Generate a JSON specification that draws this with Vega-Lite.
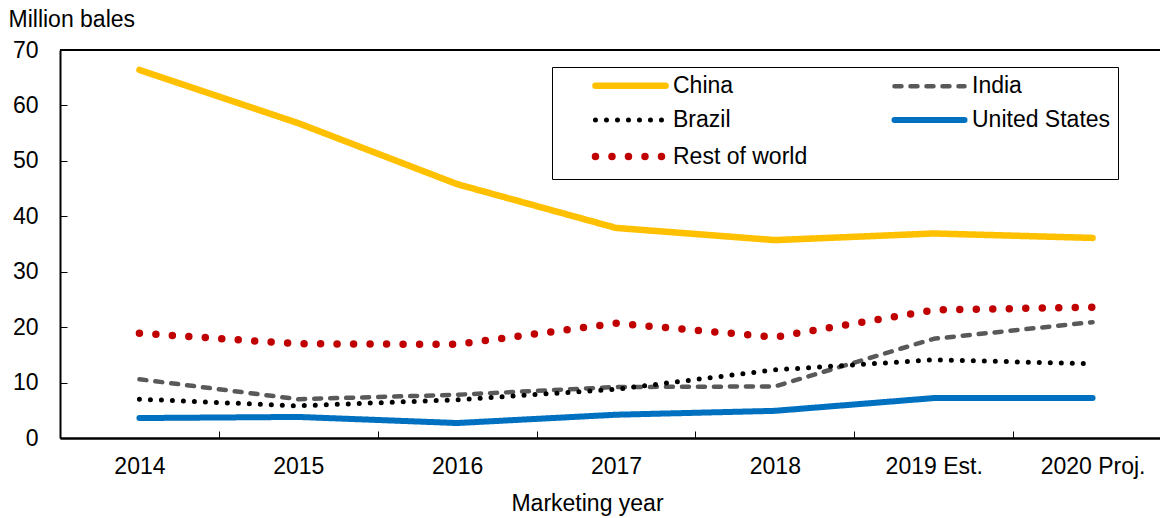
{
  "$schema": "https://vega.github.io/schema/vega-lite/v6.json",
  "width": 1100,
  "height": 388,
  "autosize": "none",
  "padding": {"left": 60, "top": 50, "right": 0, "bottom": 80},
  "background": "white",
  "config": {
    "view": {"stroke": null},
    "font": "Liberation Sans",
    "text": {"font": "Liberation Sans"}
  },
  "data": {
    "values": [
      {"year": "2014", "series": "China", "value": 66.4},
      {"year": "2015", "series": "China", "value": 56.8},
      {"year": "2016", "series": "China", "value": 45.8},
      {"year": "2017", "series": "China", "value": 37.9},
      {"year": "2018", "series": "China", "value": 35.7},
      {"year": "2019 Est.", "series": "China", "value": 36.9},
      {"year": "2020 Proj.", "series": "China", "value": 36.1},
      {"year": "2014", "series": "India", "value": 10.6},
      {"year": "2015", "series": "India", "value": 7.0},
      {"year": "2016", "series": "India", "value": 7.8},
      {"year": "2017", "series": "India", "value": 9.2},
      {"year": "2018", "series": "India", "value": 9.3},
      {"year": "2019 Est.", "series": "India", "value": 17.9},
      {"year": "2020 Proj.", "series": "India", "value": 20.9},
      {"year": "2014", "series": "Brazil", "value": 7.0},
      {"year": "2015", "series": "Brazil", "value": 5.8},
      {"year": "2016", "series": "Brazil", "value": 6.9},
      {"year": "2017", "series": "Brazil", "value": 8.8},
      {"year": "2018", "series": "Brazil", "value": 12.3},
      {"year": "2019 Est.", "series": "Brazil", "value": 14.1},
      {"year": "2020 Proj.", "series": "Brazil", "value": 13.4},
      {"year": "2014", "series": "United States", "value": 3.6},
      {"year": "2015", "series": "United States", "value": 3.8},
      {"year": "2016", "series": "United States", "value": 2.7},
      {"year": "2017", "series": "United States", "value": 4.2},
      {"year": "2018", "series": "United States", "value": 4.9},
      {"year": "2019 Est.", "series": "United States", "value": 7.2},
      {"year": "2020 Proj.", "series": "United States", "value": 7.2},
      {"year": "2014", "series": "Rest of world", "value": 18.9},
      {"year": "2015", "series": "Rest of world", "value": 17.0},
      {"year": "2016", "series": "Rest of world", "value": 16.9},
      {"year": "2017", "series": "Rest of world", "value": 20.7},
      {"year": "2018", "series": "Rest of world", "value": 18.2},
      {"year": "2019 Est.", "series": "Rest of world", "value": 23.1},
      {"year": "2020 Proj.", "series": "Rest of world", "value": 23.6}
    ]
  },
  "layer": [
    {
      "mark": {"type": "line", "strokeCap": "round", "strokeJoin": "round", "clip": false},
      "encoding": {
        "x": {
          "field": "year",
          "type": "nominal",
          "sort": ["2014", "2015", "2016", "2017", "2018", "2019 Est.", "2020 Proj."],
          "scale": {"range": [0, 1112], "paddingInner": 0, "paddingOuter": 0},
          "axis": {
            "title": "Marketing year",
            "titleFont": "Liberation Sans",
            "titleFontSize": 23,
            "titleFontWeight": "normal",
            "titleColor": "black",
            "titleX": 527,
            "titleY": 54,
            "titleBaseline": "top",
            "labelFont": "Liberation Sans",
            "labelFontSize": 23,
            "labelColor": "black",
            "labelAngle": 0,
            "labelPadding": 24,
            "domainColor": "black",
            "domainWidth": 2.5,
            "tickBand": "extent",
            "tickColor": "black",
            "tickSize": -7,
            "tickWidth": 1
          }
        },
        "y": {
          "field": "value",
          "type": "quantitative",
          "scale": {"domain": [0, 70], "nice": false},
          "axis": {
            "values": [0, 10, 20, 30, 40, 50, 60, 70],
            "title": "Million bales",
            "titleAngle": 0,
            "titleAlign": "left",
            "titleBaseline": "top",
            "titleX": -52,
            "titleY": -42,
            "titleFont": "Liberation Sans",
            "titleFontSize": 23,
            "titleFontWeight": "normal",
            "titleColor": "black",
            "labelFont": "Liberation Sans",
            "labelFontSize": 23,
            "labelColor": "black",
            "labelPadding": 29,
            "grid": false,
            "domainColor": "black",
            "domainWidth": 2,
            "tickColor": "black",
            "tickSize": -7,
            "tickWidth": 1
          }
        },
        "color": {
          "field": "series",
          "type": "nominal",
          "scale": {
            "domain": ["China", "India", "Brazil", "United States", "Rest of world"],
            "range": ["#FFC000", "#595959", "#000000", "#0070C0", "#C00000"]
          },
          "legend": {
            "title": null,
            "orient": "none",
            "legendX": 492,
            "legendY": 17,
            "columns": 2,
            "direction": "horizontal",
            "strokeColor": "black",
            "fillColor": "white",
            "padding": 7,
            "symbolType": "M-4.67,0H4.67",
            "symbolSize": 225,
            "symbolOffset": 60,
            "labelOffset": 31,
            "columnPadding": 50,
            "rowPadding": 8.5,
            "labelFont": "Liberation Sans",
            "labelFontSize": 23,
            "labelColor": "black",
            "labelLimit": 400,
            "labelExpr": "datum.label + '    '",
            "encode": {
              "symbols": {
                "update": {
                  "strokeCap": {"value": "round"}
                }
              }
            }
          }
        },
        "strokeDash": {
          "field": "series",
          "type": "nominal",
          "scale": {
            "domain": ["China", "India", "Brazil", "United States", "Rest of world"],
            "range": [[1, 0], [7, 9], [0, 11], [1, 0], [0, 16.5]]
          }
        },
        "strokeWidth": {
          "field": "series",
          "type": "nominal",
          "scale": {
            "type": "ordinal",
            "domain": ["China", "India", "Brazil", "United States", "Rest of world"],
            "range": [6.5, 4.5, 5, 6, 7.5]
          }
        }
      }
    },
    {
      "mark": {"type": "rule", "color": "black", "strokeWidth": 2, "clip": false},
      "encoding": {"y": {"datum": 70}}
    }
  ]
}
